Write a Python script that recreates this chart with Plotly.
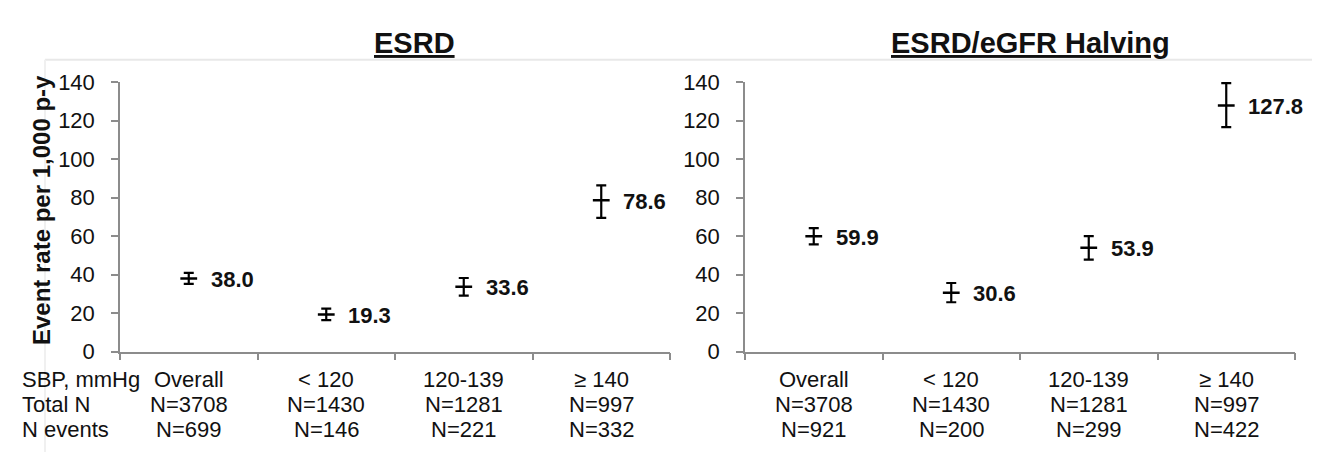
import plotly.graph_objects as go

# ---- data ----
categories = ["Overall", "< 120", "120-139", "\u2265 140"]
total_n = ["N=3708", "N=1430", "N=1281", "N=997"]

esrd_rate = [38.0, 19.3, 33.6, 78.6]
esrd_err_plus = [2.9, 3.0, 4.6, 7.7]
esrd_err_minus = [2.9, 3.0, 4.6, 9.2]
esrd_events = ["N=699", "N=146", "N=221", "N=332"]

half_rate = [59.9, 30.6, 53.9, 127.8]
half_err_plus = [4.2, 5.0, 6.1, 11.7]
half_err_minus = [4.2, 5.0, 6.1, 11.2]
half_events = ["N=921", "N=200", "N=299", "N=422"]

panel_titles = ["ESRD", "ESRD/eGFR Halving"]
row_labels = ["SBP, mmHg", "Total N", "N events"]
y_title = "Event rate per 1,000 p-y"
y_ticks = [0, 20, 40, 60, 80, 100, 120, 140]

W, H = 1320, 457
FONT = "Liberation Sans, Arial, sans-serif"
AXCOL = "#8c8c8c"
TXT = "#111111"

xpos = [i + 0.5 for i in range(len(categories))]

fig = go.Figure()

panels = [
    ("x", "y", esrd_rate, esrd_err_plus, esrd_err_minus, esrd_events),
    ("x2", "y2", half_rate, half_err_plus, half_err_minus, half_events),
]

for xa, ya, rate, ep, em, ev in panels:
    fig.add_trace(go.Scatter(
        x=xpos, y=rate, xaxis=xa, yaxis=ya, mode="markers",
        marker=dict(symbol="line-ew-open", size=12, color="black",
                    line=dict(width=2.5, color="black")),
        error_y=dict(type="data", symmetric=False, array=ep, arrayminus=em,
                     color="black", thickness=2.2, width=5),
        showlegend=False, hoverinfo="skip",
    ))

# axis domains (paper fractions)
y_dom = [1 - 350.7 / H, 1 - 65.7 / H]
x_dom_left = [112 / W, 662 / W]
x_dom_right = [737 / W, 1287 / W]

xcommon = dict(range=[0, 4], tickvals=[0, 1, 2, 3, 4], ticktext=["", "", "", "", ""],
               ticks="outside", ticklen=7, tickcolor=AXCOL, tickwidth=1.5,
               showline=True, linecolor=AXCOL, linewidth=1.5,
               showgrid=False, zeroline=False, fixedrange=True)
ycommon = dict(range=[0, 140], tickvals=y_ticks, ticks="outside", ticklen=7,
               tickcolor=AXCOL, tickwidth=1.5, showline=True, linecolor=AXCOL,
               linewidth=1.5, showgrid=False, zeroline=False,
               ticklabelstandoff=12,
               tickfont=dict(family=FONT, size=22, color=TXT), domain=y_dom)

fig.update_layout(
    width=W, height=H,
    margin=dict(l=0, r=0, t=0, b=0),
    paper_bgcolor="white", plot_bgcolor="white",
    xaxis=dict(domain=x_dom_left, anchor="y", **xcommon),
    yaxis=dict(anchor="x", **ycommon),
    xaxis2=dict(domain=x_dom_right, anchor="y2", **xcommon),
    yaxis2=dict(anchor="x2", **ycommon),
)

annotations = []

# value labels
for xa, ya, rate, ep, em, ev in panels:
    for xv, v in zip(xpos, rate):
        annotations.append(dict(
            x=xv, y=v, xref=xa, yref=ya, text=f"{v:.1f}", showarrow=False,
            xanchor="left", yanchor="middle", xshift=20, yshift=-1,
            font=dict(family=FONT, size=22, color=TXT, weight="bold")))

# table rows under x-axes
row_y = [1 - 380 / H, 1 - 407 / H, 1 - 433 / H]
for xa, ya, rate, ep, em, ev in panels:
    rows = [categories, total_n, ev]
    for ry, row in zip(row_y, rows):
        for xv, t in zip(xpos, row):
            annotations.append(dict(
                x=xv, y=ry, xref=xa, yref="paper", text=t, showarrow=False,
                xanchor="center", yanchor="middle",
                font=dict(family=FONT, size=22, color=TXT)))

for ry, t in zip(row_y, row_labels):
    annotations.append(dict(
        x=12 / W, y=ry, xref="paper", yref="paper", text=t, showarrow=False,
        xanchor="left", yanchor="middle",
        font=dict(family=FONT, size=22, color=TXT)))

# panel titles
for cx, t in zip([406.5 / W, 1022 / W], panel_titles):
    annotations.append(dict(
        x=cx, y=1 - 24 / H, xref="paper", yref="paper", text=f"<b><u>{t}</u></b>",
        showarrow=False, xanchor="center", yanchor="middle",
        font=dict(family=FONT, size=29, color=TXT)))

# y-axis title
annotations.append(dict(
    x=33 / W, y=1 - 201 / H, xref="paper", yref="paper", text=f"<b>{y_title}</b>",
    showarrow=False, textangle=-90, xanchor="center", yanchor="middle",
    font=dict(family=FONT, size=24, color=TXT)))

fig.update_layout(annotations=annotations)

# faint frame lines from the source image
fig.add_shape(type="line", xref="paper", yref="paper", x0=37 / W, x1=1313 / W,
              y0=1 - 42 / H, y1=1 - 42 / H, line=dict(color="#e8e8e8", width=2))
fig.add_shape(type="line", xref="paper", yref="paper", x0=37 / W, x1=37 / W,
              y0=1 - 42 / H, y1=0, line=dict(color="#f0f0f0", width=2))

fig.write_html("out.html")
